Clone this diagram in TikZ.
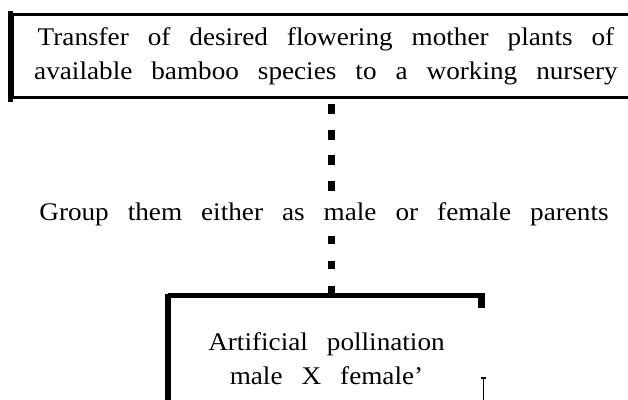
\documentclass[tikz,border=0pt]{standalone}
\usepackage{fontspec}
\setmainfont{Liberation Serif}[FakeStretch=1.07]
\usepackage{tikz}
\usetikzlibrary{positioning}
\newcommand{\flowfont}{\fontsize{25.5}{34}\selectfont\spaceskip 19bp\relax}
\tikzset{
  stepbox/.style={draw=black,line width=3.5bp,align=center,inner sep=0pt,
    font=\flowfont},
  textnode/.style={align=center,inner xsep=0pt,inner ysep=10bp,
    font=\flowfont},
  dashlink/.style={line width=7bp,draw=black,dash pattern=on 10bp off 15.5bp},
  frameS/.style={line width=5bp,draw=black},
  frameW/.style={line width=1.2bp,draw=black},
}

\begin{document}
\begin{tikzpicture}[x=1bp,y=-1bp]
  \useasboundingbox (0,0) rectangle (628,399);
  % Boxes and text
  \node[stepbox,minimum width=627.5bp,minimum height=83bp] (transfer) at (326,56)
    {Transfer of desired flowering mother plants of\\available bamboo species to a working nursery};
  \node[textnode,anchor=base] (group) at (324,220)
    {Group them either as male or female parents};
  \node[stepbox,draw=none,anchor=north,minimum width=313bp,inner ysep=35bp] (pollen) at (326.5,295.5)
    {Artificial pollination\\male X female'};
  \coordinate (axis) at (331,0);
  % Frame lines
  \draw[frameS] ([yshift=2bp]transfer.north west) -- ([yshift=-3bp]transfer.south west);
  \draw[stepbox,line width=4.5bp] (pollen.north west) -- (pollen.north east);
  \draw[frameS,line width=6bp] ([yshift=2bp]pollen.north west) -- (pollen.south west);
  \draw[frameS,line width=7bp] ([xshift=-3.5bp]pollen.north east) -- ++(0,12);
  \draw[frameW] ([xshift=-1bp,yshift=-82bp]pollen.north east) -- ([xshift=-1bp]pollen.south east);
  \draw[frameW] ([xshift=-3.5bp,yshift=-82.5bp]pollen.north east) -- ++(5,0);
  % Dotted connectors
  \draw[dashlink,shorten <=5bp] (transfer.south -| axis) -- (group.north -| axis);
  \draw[dashlink,dash pattern=on 8.5bp off 16.5bp] (group.south -| axis) -- (pollen.north -| axis);
\end{tikzpicture}
\end{document}
